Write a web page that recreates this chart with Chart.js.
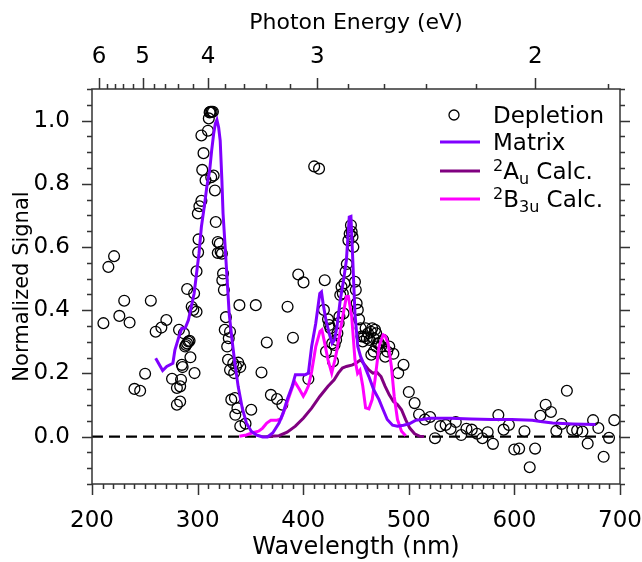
<!DOCTYPE html>
<html>
<head>
<meta charset="utf-8">
<script src="https://cdn.jsdelivr.net/npm/chart.js@4.4.1/dist/chart.umd.min.js"></script>
<style>
  body { margin: 0; background: #fff; }
  #wrap { width: 642px; height: 562px; position: relative; }
</style>
</head>
<body>
<div id="wrap"><canvas id="spectrum"></canvas></div>
<script>
// depletion spectrum (open circles)
const depletionWl = [
  210.8, 215.5, 220.9, 225.9, 230.5, 235.6, 240.2, 245.6, 250.3, 255.7,
  260.3, 265.7, 270.4, 275.8, 280.4, 280.4, 283.5, 282.4, 283.5, 284.3,
  285.1, 285.8, 287.0, 288.2, 289.0, 290.1, 291.3, 292.4, 290.1, 293.2,
  294.4, 295.9, 297.1, 299.0, 296.7, 299.0, 300.5, 300.9, 300.2, 301.7,
  303.6, 304.4, 305.6, 303.6, 307.5, 309.8, 310.6, 312.1, 313.3, 314.5,
  311.4, 312.9, 315.2, 316.4, 317.2, 319.1, 321.0, 321.8, 319.1, 323.0,
  324.1, 323.4, 324.9, 325.7, 326.8, 328.0, 329.5, 330.7, 328.8, 330.7,
  331.9, 333.8, 334.6, 336.5, 338.5, 340.4, 335.3, 337.7, 335.7, 340.4,
  345.4, 339.6, 350.8, 355.1, 360.5, 365.5, 369.4, 375.2, 380.2, 385.2,
  390.3, 395.3, 400.3, 404.9, 410.4, 415.0, 420.4, 419.6, 421.6, 423.5,
  424.6, 425.8, 427.4, 428.2, 429.7, 431.2, 432.4, 433.6, 434.3, 435.1,
  436.3, 437.5, 438.2, 439.0, 440.1, 441.3, 442.8, 444.0, 445.2, 445.9,
  446.7, 447.5, 449.0, 449.8, 450.6, 451.7, 452.9, 454.4, 455.2, 456.4,
  457.5, 459.1, 460.2, 461.4, 462.9, 464.1, 465.3, 466.8, 468.0, 469.1,
  470.7, 464.5, 466.8, 469.1, 471.8, 473.7, 475.7, 477.6, 479.6, 481.5,
  485.4, 490.0, 495.0, 500.0, 505.5, 509.7, 515.2, 520.2, 524.8, 529.9,
  534.9, 539.5, 544.5, 549.6, 554.6, 559.6, 564.7, 569.7, 574.7, 579.7,
  584.8, 589.8, 594.8, 599.9, 604.5, 609.5, 614.5, 619.6, 624.6, 629.6,
  634.6, 639.7, 644.7, 649.7, 654.8, 659.4, 664.4, 669.4, 674.5, 679.5,
  684.5, 689.6, 694.6
];
const depletionSignal = [
  0.359, 0.537, 0.571, 0.382, 0.430, 0.361, 0.151, 0.145, 0.199, 0.430,
  0.332, 0.345, 0.369, 0.183, 0.154, 0.101, 0.111, 0.338, 0.159, 0.180,
  0.227, 0.220, 0.327, 0.285, 0.290, 0.295, 0.301, 0.303, 0.467, 0.251,
  0.411, 0.401, 0.201, 0.395, 0.453, 0.523, 0.583, 0.624, 0.706, 0.729,
  0.746, 0.844, 0.897, 0.953, 0.811, 0.968, 1.007, 1.028, 1.028, 1.028,
  1.026, 0.821, 0.826, 0.779, 0.679, 0.616, 0.611, 0.585, 0.581, 0.579,
  0.516, 0.495, 0.464, 0.338, 0.378, 0.285, 0.311, 0.332, 0.243, 0.211,
  0.117, 0.232, 0.201, 0.222, 0.234, 0.220, 0.122, 0.090, 0.069, 0.033,
  0.041, 0.416, 0.085, 0.416, 0.203, 0.298, 0.132, 0.119, 0.101, 0.411,
  0.313, 0.513, 0.488, 0.182, 0.855, 0.848, 0.495, 0.401, 0.269, 0.371,
  0.353, 0.343, 0.295, 0.238, 0.290, 0.306, 0.327, 0.359, 0.380, 0.448,
  0.474, 0.453, 0.390, 0.485, 0.522, 0.546, 0.621, 0.642, 0.669, 0.648,
  0.632, 0.600, 0.490, 0.464, 0.422, 0.401, 0.371, 0.343, 0.317, 0.301,
  0.317, 0.343, 0.311, 0.327, 0.306, 0.332, 0.343, 0.311, 0.338, 0.327,
  0.295, 0.259, 0.269, 0.285, 0.295, 0.285, 0.306, 0.253, 0.269, 0.285,
  0.262, 0.201, 0.227, 0.141, 0.106, 0.070, 0.054, 0.062, -0.005, 0.033,
  0.037, 0.024, 0.046, 0.005, 0.025, 0.022, 0.009, -0.005, 0.014, -0.023,
  0.068, 0.022, 0.037, -0.041, -0.038, 0.017, -0.097, -0.038, 0.066, 0.101,
  0.078, 0.018, 0.040, 0.145, 0.022, 0.020, 0.016, -0.022, 0.052, 0.027,
  -0.064, -0.004, 0.052
];

// matrix absorption
const matrixWl = [
  260.3, 266.9, 270.8, 276.6, 278.5, 282.4, 285.1, 288.2, 291.3, 294.0,
  296.7, 299.0, 301.3, 303.6, 306.3, 308.7, 311.4, 313.3, 315.2, 316.8,
  318.3, 319.9, 321.4, 323.0, 324.1, 326.1, 328.0, 329.9, 332.6, 335.3,
  338.4, 342.3, 346.2, 350.8, 355.8, 361.6, 366.3, 371.3, 377.1, 381.0,
  384.8, 389.5, 392.6, 402.2, 404.9, 408.0, 411.9, 415.7, 417.3, 418.8,
  421.5, 424.6, 427.4, 429.7, 432.0, 435.1, 438.2, 440.9, 443.6, 445.2,
  446.7, 449.0, 451.7, 454.4, 458.3, 462.2, 466.8, 471.8, 475.7, 479.6,
  484.6, 489.3, 495.0, 500.9, 506.7, 512.5, 520.2, 539.5, 558.9, 578.2,
  597.5, 616.9, 624.6, 636.2, 655.5, 676.8
];
const matrixSignal = [
  0.248, 0.209, 0.222, 0.232, 0.274, 0.317, 0.343, 0.343, 0.369, 0.411,
  0.453, 0.516, 0.579, 0.664, 0.727, 0.790, 0.842, 0.905, 0.958, 0.990,
  1.002, 0.979, 0.937, 0.811, 0.706, 0.600, 0.495, 0.390, 0.306, 0.232,
  0.159, 0.090, 0.043, 0.017, 0.005, -0.001, -0.001, 0.012, 0.043, 0.075,
  0.117, 0.159, 0.196, 0.196, 0.201, 0.285, 0.359, 0.453, 0.458, 0.422,
  0.369, 0.327, 0.295, 0.306, 0.348, 0.432, 0.495, 0.558, 0.695, 0.697,
  0.579, 0.390, 0.285, 0.253, 0.222, 0.190, 0.148, 0.117, 0.085, 0.054,
  0.036, 0.033, 0.036, 0.041, 0.052, 0.054, 0.058, 0.058, 0.056, 0.054,
  0.054, 0.052, 0.048, 0.043, 0.040, 0.038
];

// 2Au calculation
const auWl = [
  365.5, 377.1, 384.8, 392.6, 400.3, 408.0, 415.7, 423.5, 429.3, 433.2,
  437.1, 440.9, 446.7, 450.6, 454.4, 458.3, 462.2, 466.0, 469.9, 473.7,
  477.6, 481.5, 485.4, 489.3, 493.1, 497.0, 500.9, 505.5, 510.5, 514.4
];
const auSignal = [
  0.000, 0.003, 0.014, 0.033, 0.059, 0.090, 0.127, 0.159, 0.180, 0.201,
  0.217, 0.222, 0.227, 0.234, 0.243, 0.227, 0.211, 0.201, 0.203, 0.190,
  0.159, 0.132, 0.111, 0.101, 0.085, 0.054, 0.027, 0.009, 0.001, 0.000
];

// 2B3u calculation
const b3uWl = [
  339.6, 346.2, 352.0, 357.8, 361.6, 365.5, 369.4, 375.2, 379.0, 382.9,
  386.7, 391.7, 396.4, 400.1, 402.2, 404.9, 408.0, 411.9, 415.9, 417.7,
  420.4, 423.5, 427.0, 430.1, 432.0, 436.4, 440.9, 442.8, 445.9, 449.0,
  451.5, 453.7, 456.4, 459.1, 462.2, 465.3, 468.0, 471.8, 475.7, 477.6,
  480.4, 483.5, 486.2, 489.3, 493.1, 497.0
];
const b3uSignal = [
  0.001, 0.005, 0.012, 0.017, 0.027, 0.043, 0.052, 0.052, 0.056, 0.090,
  0.127, 0.175, 0.150, 0.128, 0.140, 0.160, 0.205, 0.285, 0.333, 0.338,
  0.295, 0.243, 0.201, 0.244, 0.275, 0.360, 0.443, 0.443, 0.381, 0.244,
  0.200, 0.210, 0.160, 0.091, 0.088, 0.117, 0.180, 0.285, 0.322, 0.319,
  0.295, 0.222, 0.127, 0.054, 0.017, 0.003
];

const zeroWl = [200, 700];
const zeroSignal = [0, 0];

// axis ticks
const wlTicks = [200, 300, 400, 500, 600, 700];
const signalTicks = [0.0, 0.2, 0.4, 0.6, 0.8, 1.0];
const energyTicks = [6, 5, 4, 3, 2];
const HC = 1239.84; // eV*nm

const FONT = "'DejaVu Sans', sans-serif";

function pairs(xs, ys) {
  return xs.map((x, i) => ({ x, y: ys[i] }));
}

// frame, minor/major ticks on all four sides
const framePlugin = {
  id: 'frame',
  afterDraw(chart) {
    const { ctx, chartArea: a, scales } = chart;
    const x = scales.x, y = scales.y;
    ctx.save();
    ctx.strokeStyle = '#333';
    ctx.lineWidth = 1.5;
    ctx.strokeRect(a.left, a.top, a.right - a.left, a.bottom - a.top);
    ctx.beginPath();
    for (let v = 200; v <= 700; v += 10) {
      const px = Math.round(x.getPixelForValue(v)) + 0.5;
      const len = v % 100 === 0 ? 11 : 5;
      ctx.moveTo(px, a.bottom);
      ctx.lineTo(px, a.bottom + len);
    }
    for (let e = 18; e <= 62; e += 2) {
      const wl = HC / (e / 10);
      if (wl < 200 || wl > 700) continue;
      const px = Math.round(x.getPixelForValue(wl)) + 0.5;
      const len = e % 10 === 0 ? 11 : 5;
      ctx.moveTo(px, a.top);
      ctx.lineTo(px, a.top - len);
    }
    for (let k = -3; k <= 22; k++) {
      const v = k * 0.05;
      const py = Math.round(y.getPixelForValue(v)) + 0.5;
      const len = k % 4 === 0 ? 10 : 5;
      ctx.moveTo(a.left, py);
      ctx.lineTo(a.left - len, py);
      ctx.moveTo(a.right, py);
      ctx.lineTo(a.right + len, py);
    }
    ctx.stroke();
    ctx.restore();
  },
};

// legend with super/subscripts
const legendPlugin = {
  id: 'richLegend',
  afterDraw(chart) {
    const { ctx, chartArea: a } = chart;
    const ds = chart.data.datasets;
    const lineX0 = a.right - 180, lineX1 = a.right - 140;
    const textX = a.right - 127;
    const rows = [a.top + 26, a.top + 53, a.top + 82, a.top + 110];
    const big = `23px ${FONT}`, small = `16px ${FONT}`;
    ctx.save();
    ctx.textBaseline = 'alphabetic';
    ctx.fillStyle = '#000';

    // depletion marker
    ctx.beginPath();
    ctx.arc(a.right - 166, rows[0], 5, 0, Math.PI * 2);
    ctx.strokeStyle = '#000';
    ctx.lineWidth = 1.3;
    ctx.stroke();

    const lines = [ds[1], ds[2], ds[3]];
    lines.forEach((d, i) => {
      ctx.beginPath();
      ctx.strokeStyle = d.borderColor;
      ctx.lineWidth = 3;
      ctx.moveTo(lineX0, rows[i + 1]);
      ctx.lineTo(lineX1, rows[i + 1]);
      ctx.stroke();
    });

    const parts = [
      [['Depletion', 0]],
      [['Matrix', 0]],
      [['2', -1], ['A', 0], ['u', 1], [' Calc.', 0]],
      [['2', -1], ['B', 0], ['3u', 1], [' Calc.', 0]],
    ];
    parts.forEach((segs, i) => {
      let px = textX;
      const base = rows[i] + 8;
      segs.forEach(([t, pos]) => {
        ctx.font = pos === 0 ? big : small;
        const dy = pos === -1 ? -8 : pos === 1 ? 5 : 0;
        ctx.fillText(t, px, base + dy);
        px += ctx.measureText(t).width;
      });
    });
    ctx.restore();
  },
};

function noSidePadding(s) {
  s.paddingLeft = 0;
  s.paddingRight = 0;
}

function buildChart() {
  const canvas = document.getElementById('spectrum');
  const tickFont = { family: FONT, size: 23 };
  const titleFont = { family: FONT, size: 22 };

  new Chart(canvas, {
    type: 'line',
    data: {
      datasets: [
        {
          label: 'Depletion',
          data: pairs(depletionWl, depletionSignal),
          showLine: false,
          pointRadius: 5.4,
          pointBorderWidth: 1.3,
          pointBorderColor: '#000',
          pointBackgroundColor: 'rgba(0,0,0,0)',
          borderColor: '#000',
          order: 10,
        },
        {
          label: 'Matrix',
          data: pairs(matrixWl, matrixSignal),
          borderColor: '#8000ff',
          borderWidth: 3,
          pointRadius: 0,
          order: 1,
        },
        {
          label: '2Au Calc.',
          data: pairs(auWl, auSignal),
          borderColor: '#800080',
          borderWidth: 3,
          pointRadius: 0,
          order: 3,
        },
        {
          label: '2B3u Calc.',
          data: pairs(b3uWl, b3uSignal),
          borderColor: '#ff00ff',
          borderWidth: 3,
          pointRadius: 0,
          order: 2,
        },
        {
          label: 'zero',
          data: pairs(zeroWl, zeroSignal),
          borderColor: '#000',
          borderWidth: 2.2,
          borderDash: [11, 6],
          pointRadius: 0,
          order: 5,
        },
      ],
    },
    options: {
      responsive: true,
      maintainAspectRatio: false,
      animation: false,
      layout: { padding: { right: 22 } },
      plugins: {
        legend: { display: false },
        tooltip: { enabled: false },
      },
      scales: {
        x: {
          type: 'linear',
          position: 'bottom',
          min: 200,
          max: 700,
          afterBuildTicks: (s) => { s.ticks = wlTicks.map((v) => ({ value: v })); },
          afterFit: (s) => { s.height = 78; noSidePadding(s); },
          grid: { display: false, drawTicks: false },
          border: { display: false },
          ticks: { font: tickFont, color: '#000', padding: 23, maxRotation: 0, autoSkip: false },
          title: {
            display: true,
            text: 'Wavelength (nm)',
            font: { family: FONT, size: 24 },
            color: '#000',
            padding: { top: -5, bottom: 0 },
          },
        },
        xTop: {
          type: 'linear',
          position: 'top',
          min: 200,
          max: 700,
          afterBuildTicks: (s) => { s.ticks = energyTicks.map((e) => ({ value: HC / e })); },
          afterFit: (s) => { s.height = 89; noSidePadding(s); },
          grid: { display: false, drawTicks: false },
          border: { display: false },
          ticks: {
            font: tickFont,
            color: '#000',
            padding: 18,
            maxRotation: 0,
            autoSkip: false,
            callback: (v) => String(Math.round(HC / v)),
          },
          title: {
            display: true,
            text: 'Photon Energy (eV)',
            font: titleFont,
            color: '#000',
            padding: { top: 10, bottom: 0 },
          },
        },
        y: {
          type: 'linear',
          min: -0.15,
          max: 1.1,
          afterBuildTicks: (s) => { s.ticks = signalTicks.map((v) => ({ value: v })); },
          afterFit: (s) => { s.width = 92; },
          grid: { display: false, drawTicks: false },
          border: { display: false },
          ticks: {
            font: tickFont,
            color: '#000',
            padding: 22,
            callback: (v) => v.toFixed(1),
          },
          title: {
            display: true,
            text: 'Normalized Signal',
            font: { family: FONT, size: 21 },
            color: '#000',
            padding: { top: 10, bottom: 0 },
          },
        },
      },
    },
    plugins: [framePlugin, legendPlugin],
  });
}

document.addEventListener('DOMContentLoaded', buildChart);
</script>
</body>
</html>
